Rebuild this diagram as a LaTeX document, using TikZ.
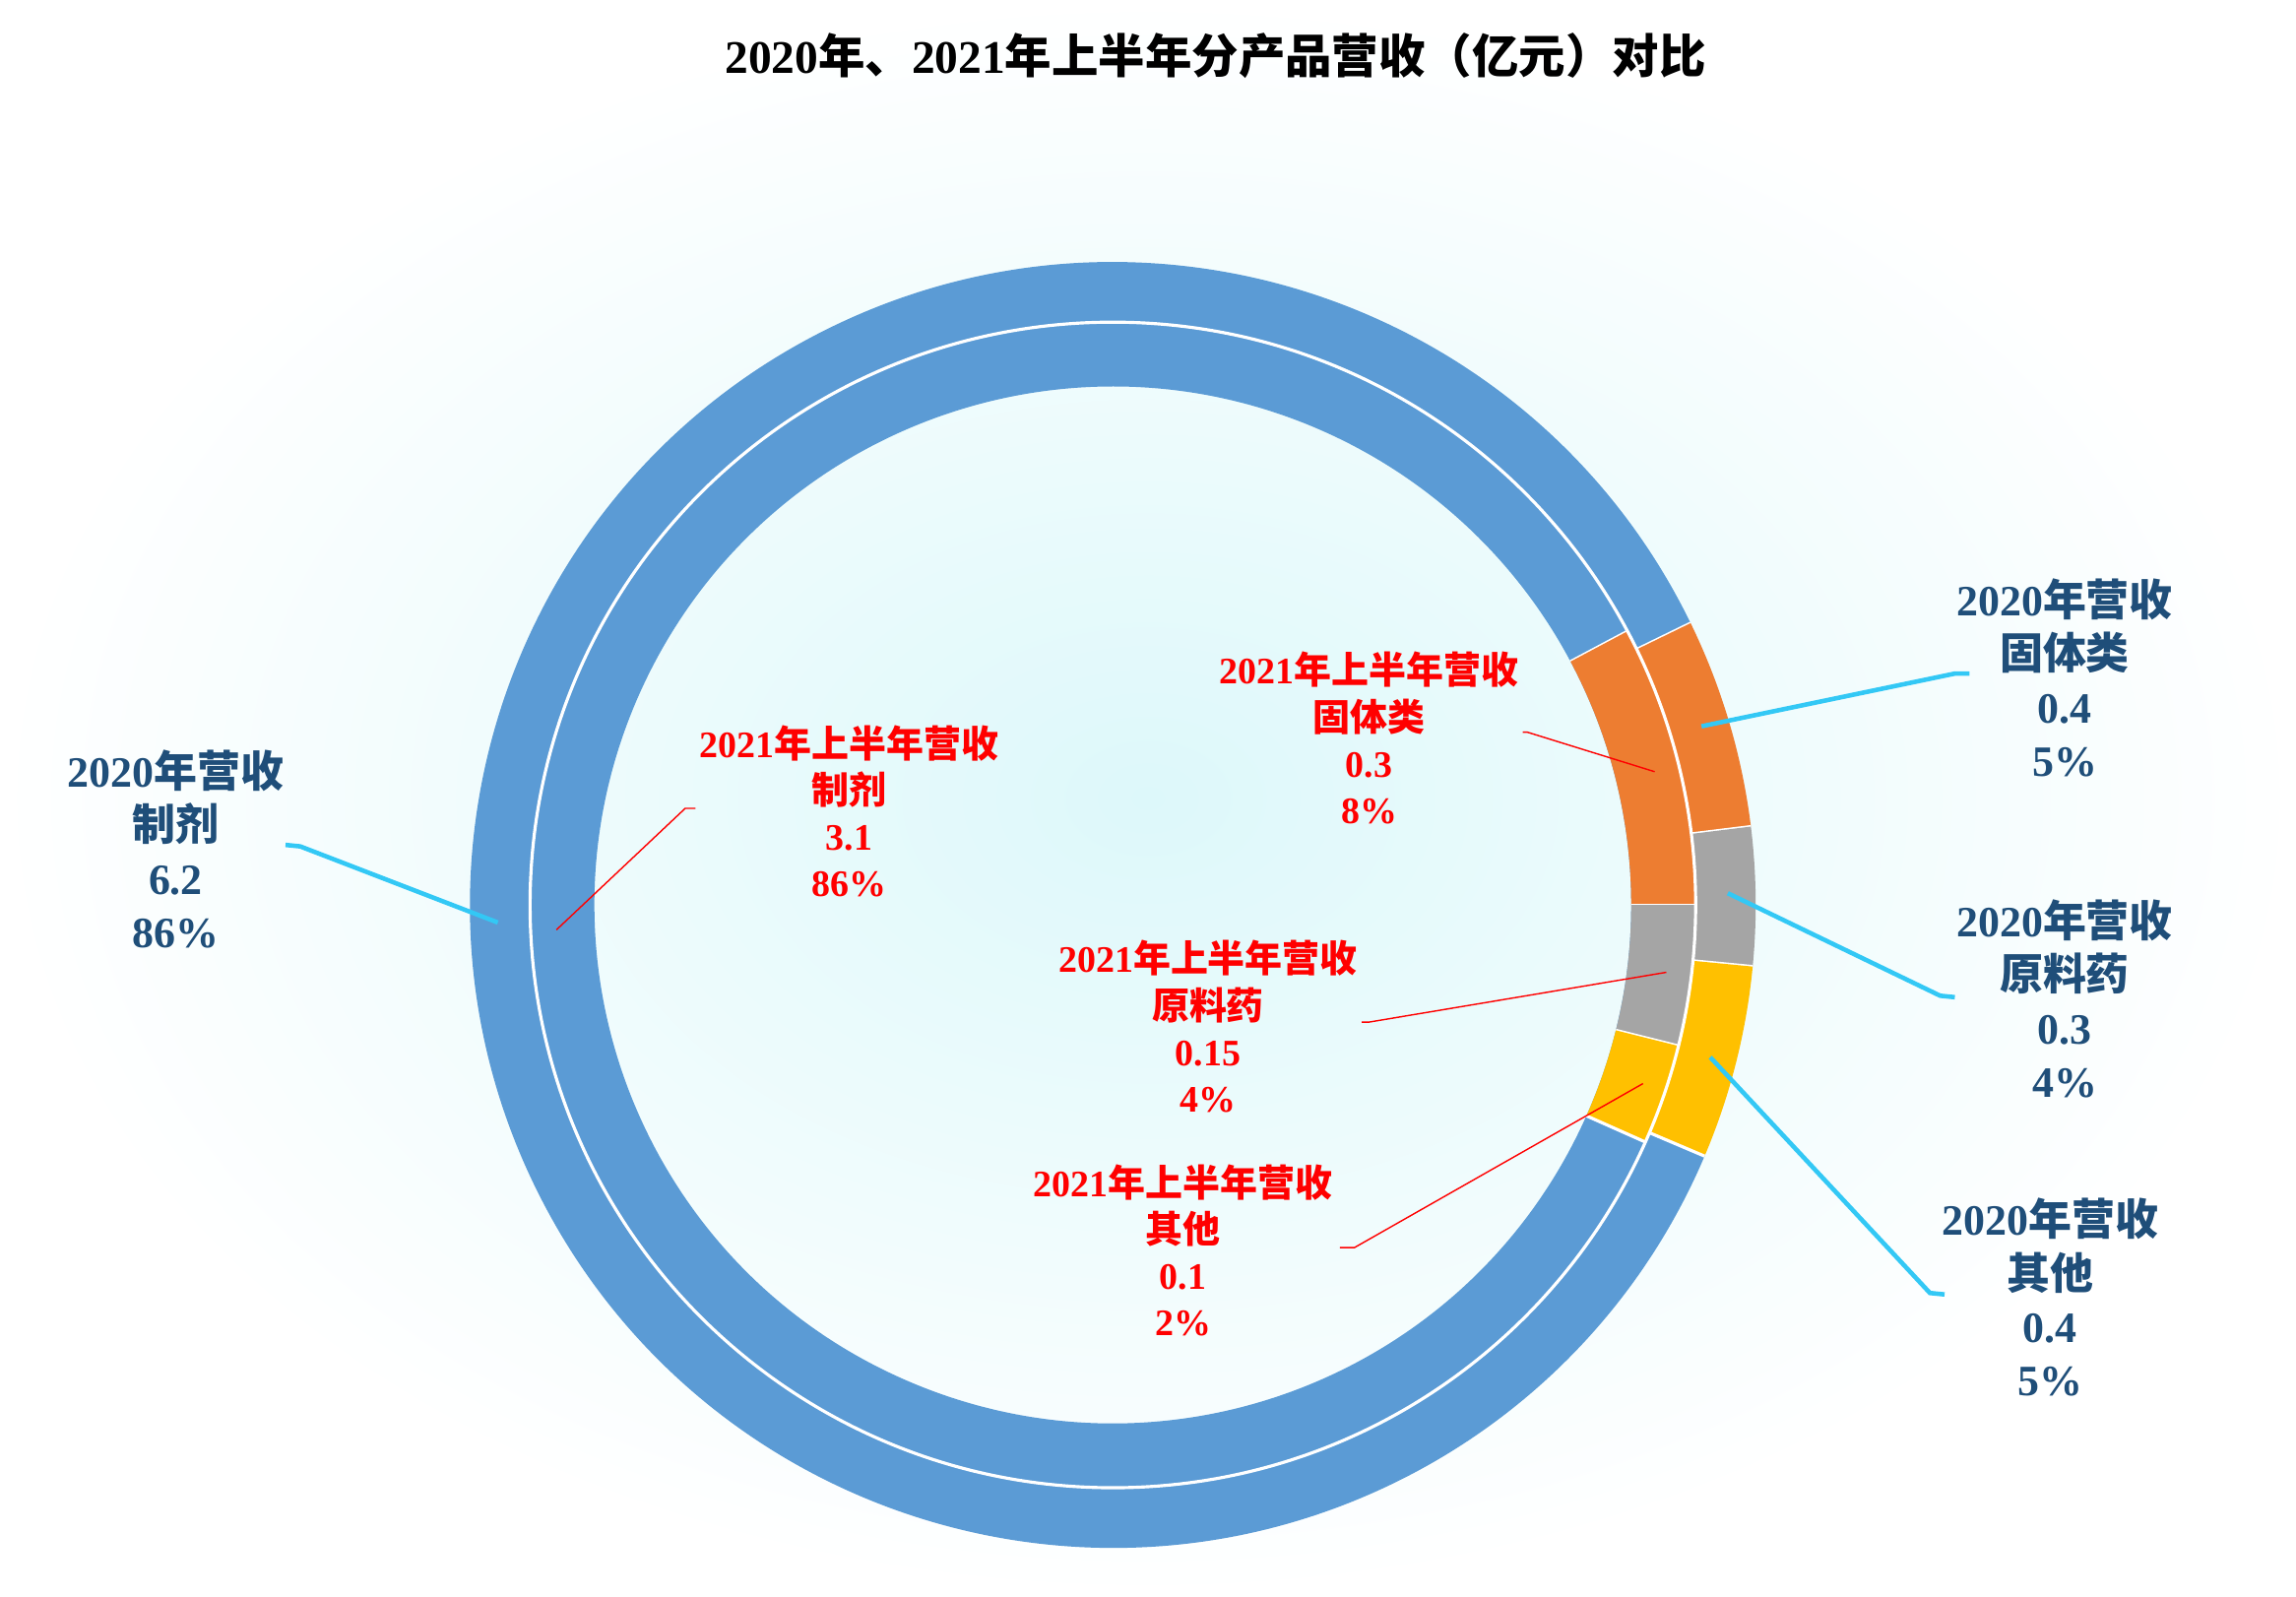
\documentclass[tikz,border=0pt]{standalone}
\usepackage{fontspec}
\setmainfont{Liberation Serif}
\newfontfamily\cjk{Noto Sans CJK SC}
\usetikzlibrary{positioning}
\newcommand{\zh}[1]{{\cjk #1}}
\definecolor{ringblue}{HTML}{5B9BD5}
\definecolor{ringorange}{HTML}{ED7D31}
\definecolor{ringgray}{HTML}{A5A5A5}
\definecolor{ringyellow}{HTML}{FFC000}
\definecolor{labelblue}{HTML}{1F4E79}
\definecolor{leadblue}{HTML}{33C8F5}
\definecolor{bgcyan}{HTML}{DDF8FA}
\tikzset{
  outerlabel/.style={align=center, text=labelblue, font=\bfseries\fontsize{12.5}{15.5}\selectfont},
  innerlabel/.style={align=center, text=red, font=\bfseries\fontsize{10.8}{13.4}\selectfont},
  outerlead/.style={leadblue, line width=1.3pt},
  innerlead/.style={red, line width=0.4pt},
  sep/.style={white, line width=0.9pt}
}
% ring segment: #1 colour, #2 start angle, #3 end angle, #4 inner r, #5 outer r
\newcommand{\ringseg}[5]{%
  \fill[#1] (760,472) ++(#2:#5) arc[start angle=#2, end angle=#3, radius=#5]
    -- ($(760,472)+(#3:#4)$) arc[start angle=#3, end angle=#2, radius=#4] -- cycle;
  \draw[sep] ($(760,472)+(#2:#4)$) -- ($(760,472)+(#2:#5)$);}
\usetikzlibrary{calc}
\begin{document}
\begin{tikzpicture}[x=0.014872cm, y=0.014872cm]
\useasboundingbox (0,0) rectangle (1568,1090);
\shade[inner color=bgcyan, outer color=white] (0,0) rectangle (1568,1090);

\node[font=\bfseries\fontsize{13.5}{16}\selectfont] (title) at (830,1052)
  {2020\zh{年、}2021\zh{年上半年分产品营收（亿元）对比}};

% outer ring (2020)
\ringseg{ringblue}{26}{337}{398}{439}
\ringseg{ringorange}{7}{26}{398}{439}
\ringseg{ringgray}{-5.5}{7}{398}{439}
\ringseg{ringyellow}{-23}{-5.5}{398}{439}
% inner ring (2021 H1)
\ringseg{ringblue}{-24}{28}{354}{398}
\ringseg{ringblue}{28}{336}{354}{398}
\ringseg{ringorange}{0}{28}{354}{398}
\ringseg{ringgray}{-14}{0}{354}{398}
\ringseg{ringyellow}{-24}{-14}{354}{398}
\draw[sep] (760,472) circle[radius=398];

% outer labels
\node[outerlabel] (zjA) at (120,510) {2020\zh{年营收}\\\zh{制剂}\\6.2\\86\%};
\node[outerlabel] (gtA) at (1410,627) {2020\zh{年营收}\\\zh{固体类}\\0.4\\5\%};
\node[outerlabel] (ylA) at (1410,408) {2020\zh{年营收}\\\zh{原料药}\\0.3\\4\%};
\node[outerlabel] (qtA) at (1400,204) {2020\zh{年营收}\\\zh{其他}\\0.4\\5\%};
% inner labels
\node[innerlabel] (zjB) at (580,536) {2021\zh{年上半年营收}\\\zh{制剂}\\3.1\\86\%};
\node[innerlabel] (gtB) at (935,586) {2021\zh{年上半年营收}\\\zh{固体类}\\0.3\\8\%};
\node[innerlabel] (ylB) at (825,389) {2021\zh{年上半年营收}\\\zh{原料药}\\0.15\\4\%};
\node[innerlabel] (qtB) at (808,236) {2021\zh{年上半年营收}\\\zh{其他}\\0.1\\2\%};

% leader end points
\coordinate (zjAp) at (340,460); \coordinate (zjAk) at (205,512); \coordinate (zjAe) at (195,513);
\coordinate (gtAp) at (1162,594); \coordinate (gtAk) at (1335,630); \coordinate (gtAe) at (1345,630);
\coordinate (ylAp) at (1180,480); \coordinate (ylAk) at (1325,410); \coordinate (ylAe) at (1335,409);
\coordinate (qtAp) at (1168,368); \coordinate (qtAk) at (1318,207); \coordinate (qtAe) at (1328,206);
\coordinate (zjBp) at (380,455); \coordinate (zjBk) at (468,538); \coordinate (zjBe) at (475,538);
\coordinate (gtBp) at (1130,563); \coordinate (gtBk) at (1043,590); \coordinate (gtBe) at (1040,590);
\coordinate (ylBp) at (1138,426); \coordinate (ylBk) at (935,392); \coordinate (ylBe) at (930,392);
\coordinate (qtBp) at (1122,350); \coordinate (qtBk) at (925,238); \coordinate (qtBe) at (915,238);

\draw[outerlead] (zjAp) -- (zjAk) -- (zjAe);
\draw[outerlead] (gtAp) -- (gtAk) -- (gtAe);
\draw[outerlead] (ylAp) -- (ylAk) -- (ylAe);
\draw[outerlead] (qtAp) -- (qtAk) -- (qtAe);
\draw[innerlead] (zjBp) -- (zjBk) -- (zjBe);
\draw[innerlead] (gtBp) -- (gtBk) -- (gtBe);
\draw[innerlead] (ylBp) -- (ylBk) -- (ylBe);
\draw[innerlead] (qtBp) -- (qtBk) -- (qtBe);
\end{tikzpicture}
\end{document}
